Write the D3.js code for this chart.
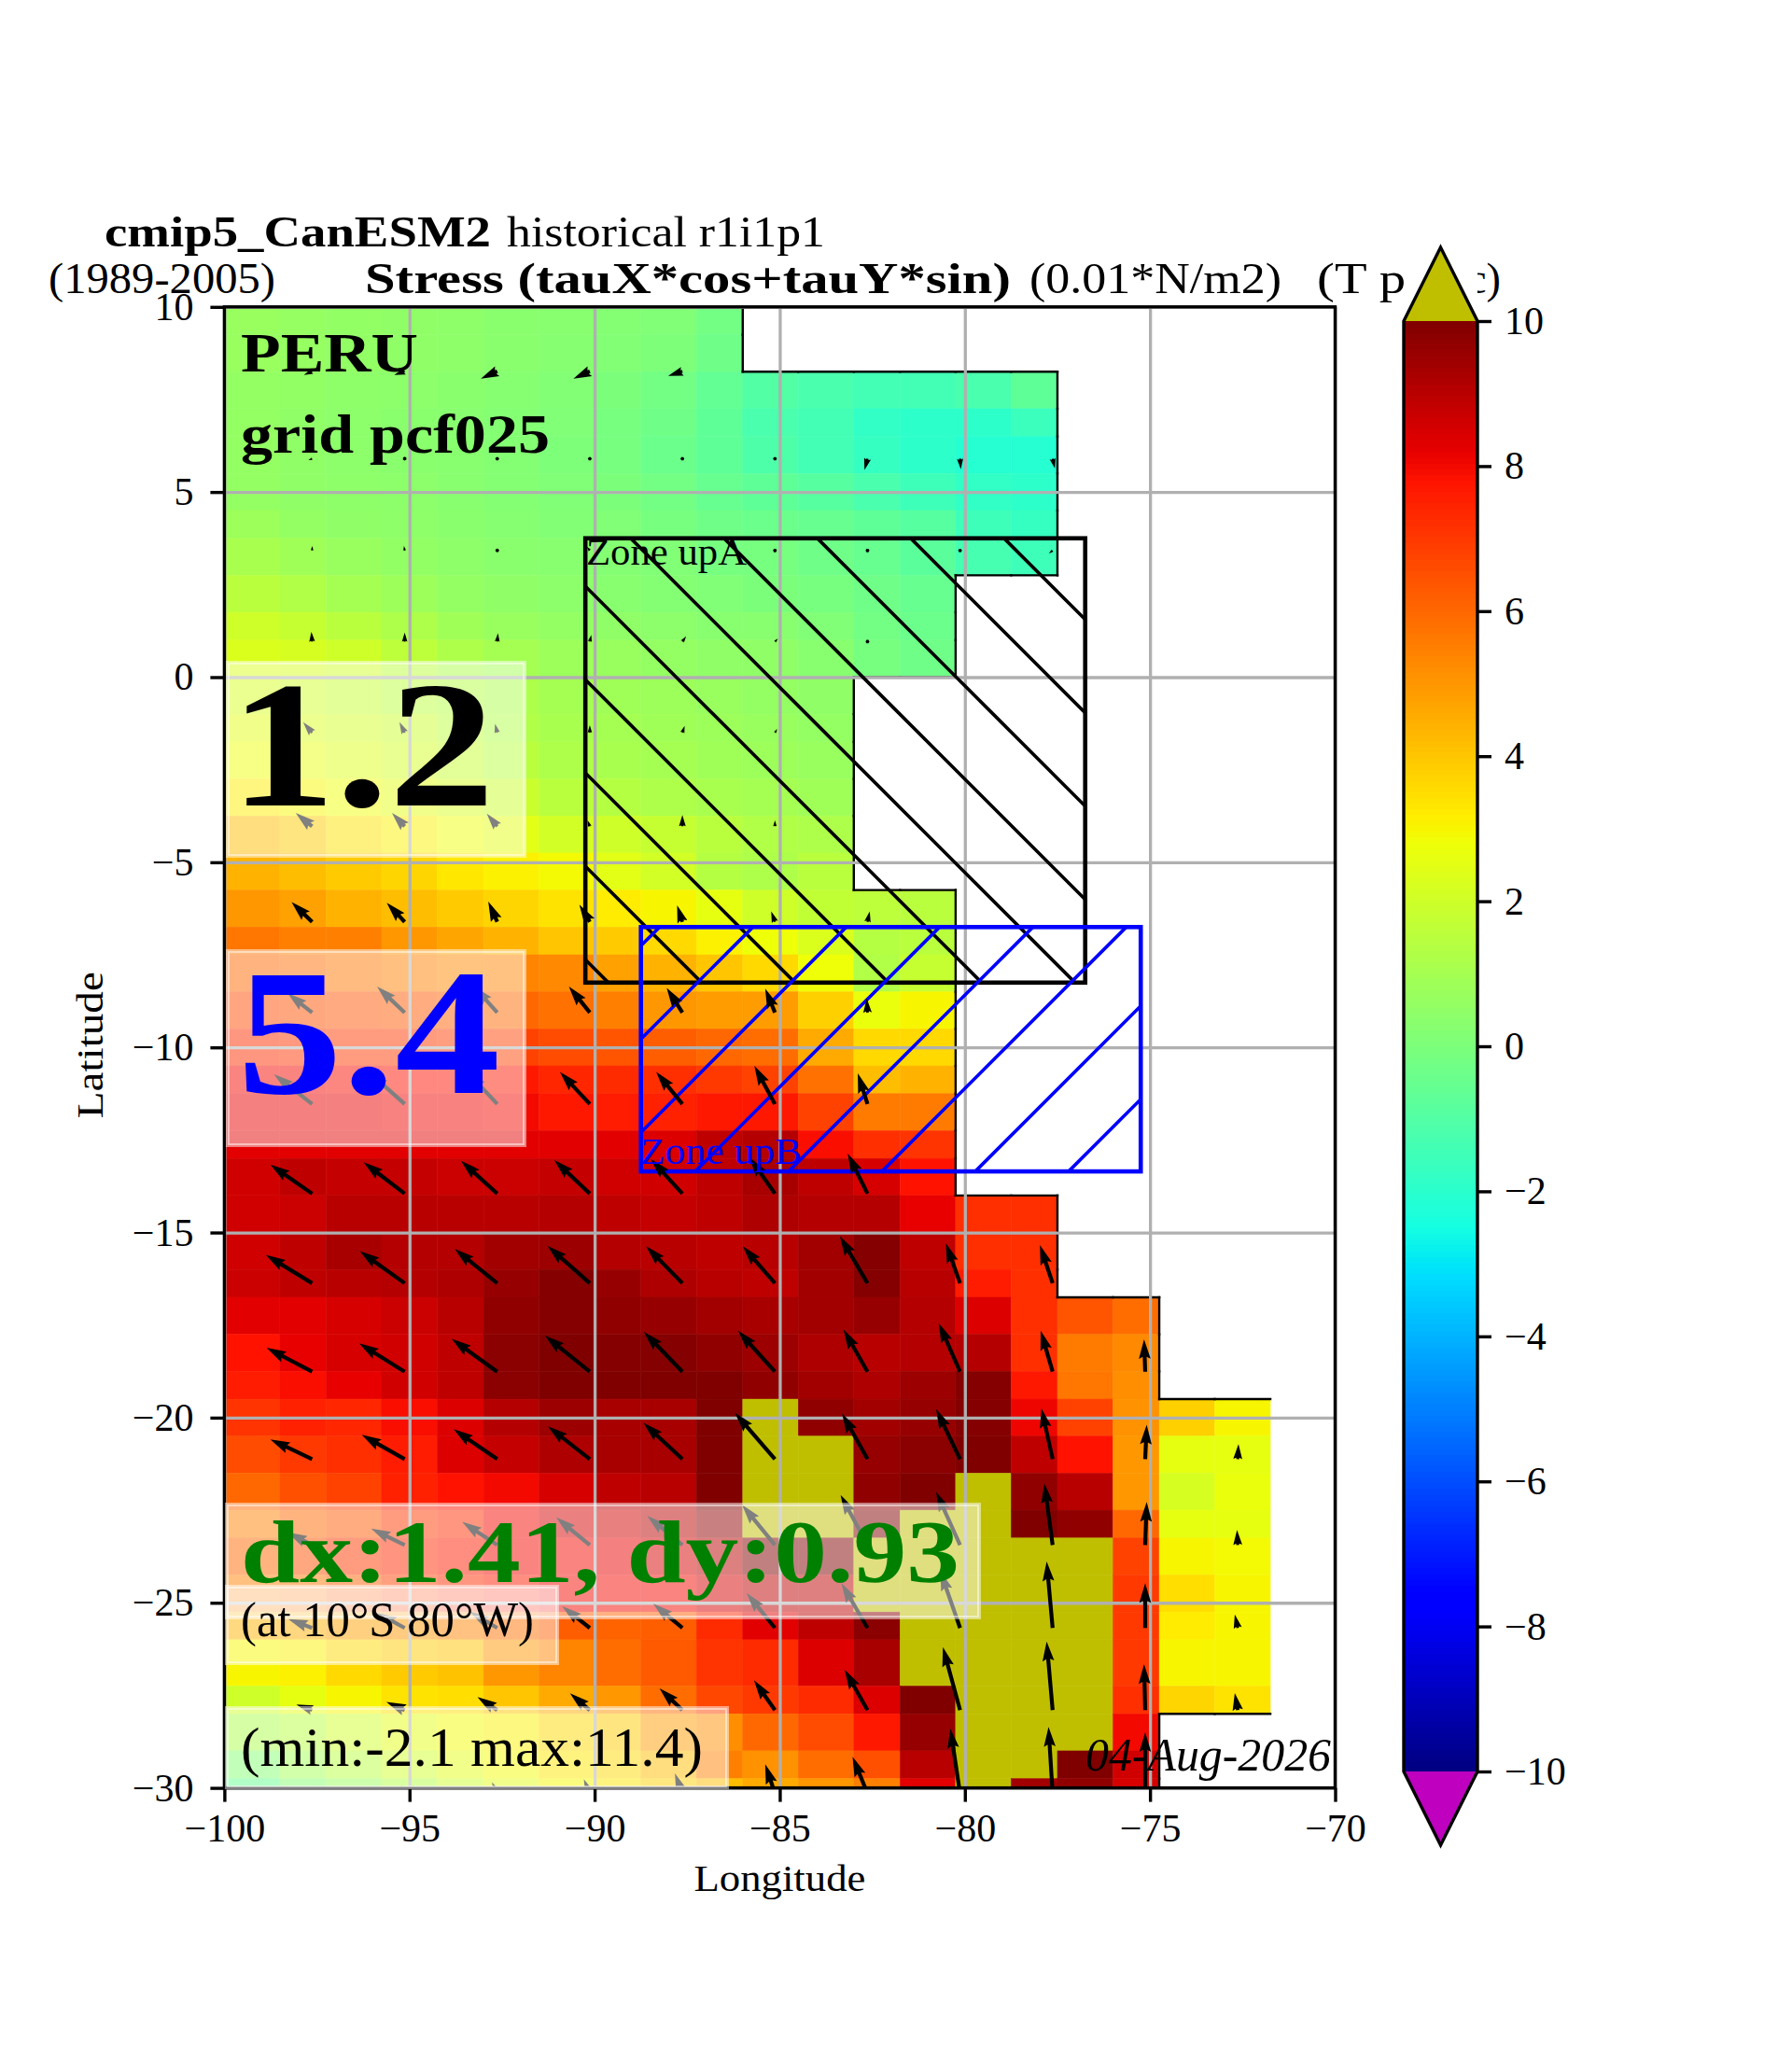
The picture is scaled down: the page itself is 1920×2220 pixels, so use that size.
<!DOCTYPE html>
<html lang="en">

<head>
    <meta charset="utf-8">
    <title>Stress</title>
    <script type="text/javascript" src="https://d3js.org/d3.v7.min.js"></script>
    <style type="text/css">
        body {
            margin: 0;
            background: white;
        }

        text {
            font-family: "Liberation Serif", serif;
        }
    </style>
</head>

<body>
    <svg width="1920" height="2220"></svg>
    <script type="text/javascript">
        //Cell edges of the regridded field (degrees)
        const lonEdges = [-100, -98.5, -97.25, -95.75, -94.25, -93, -91.5, -90, -88.75, -87.25, -86, -84.5, -83,
            -81.75, -80.25, -78.75, -77.5, -76, -74.75, -73.25, -71.75]
        const latEdges = [10, 9.25, 8.25, 7.25, 6.5, 5.5, 4.5, 3.75, 2.75, 1.75, 1, 0, -1, -1.75, -2.75, -3.75, -4.75,
            -5.75, -6.75, -7.5, -8.5, -9.5, -10.5, -11.25, -12.25, -13, -14, -15, -16, -16.75, -17.75, -18.75, -19.5,
            -20.5, -21.5, -22.5, -23.25, -24.25, -25.25, -26, -27.25, -28, -29, -29.75, -30]

        //Field values, one row per latitude band (north to south), short rows are land
        const stress = [
            [.7, .65, .55, .5, .45, .35, .3, .2, .1, -.2],
            [.7, .65, .55, .5, .45, .35, .25, .15, .05, -.3],
            [.6, .55, .45, .4, .35, .25, .15, 0, -.2, -.6, -1, -1.2, -1.4, -1.4, -1.2, -.7],
            [.6, .5, .4, .35, .3, .2, .1, -.1, -.3, -.7, -1.2, -1.4, -1.8, -1.9, -1.9, -1.6],
            [.6, .5, .4, .35, .3, .2, .05, -.1, -.4, -.7, -1.1, -1.4, -1.7, -1.9, -2.1, -2.1],
            [.6, .5, .45, .4, .3, .2, .1, 0, -.2, -.5, -.7, -.9, -1.2, -1.5, -1.8, -1.9],
            [.8, .6, .5, .45, .35, .25, .15, .1, -.1, -.3, -.4, -.5, -.7, -.9, -1.5, -1.7],
            [1.1, .9, .7, .55, .45, .35, .3, .2, .1, -.1, -.1, -.3, -.5, -.8, -1.3, -1.5],
            [1.5, 1.3, 1, .8, .6, .5, .4, .3, .2, .1, 0, -.1, -.3, -.5],
            [2, 1.8, 1.5, 1.2, .9, .7, .6, .5, .4, .3, .3, .1, -.2, -.4],
            [2.3, 2.2, 2, 1.6, 1.2, 1, .8, .7, .6, .5, .5, .3, -.1, -.3],
            [2.2, 2, 1.8, 1.6, 1.4, 1.2, 1, .9, .8, .7, .6, .5],
            [2.5, 2.3, 2.1, 1.9, 1.6, 1.3, 1.1, 1, .9, .8, .7, .6],
            [2.8, 2.6, 2.4, 2.1, 1.8, 1.5, 1.2, 1.1, 1, .9, .8, .7],
            [3.2, 3, 2.8, 2.5, 2.2, 1.9, 1.5, 1.4, 1.2, 1.1, 1, .9],
            [4.2, 3.9, 3.4, 3.1, 2.8, 2.5, 2.1, 2, 1.8, 1.5, 1.3, 1.2],
            [4.4, 4.2, 3.9, 3.7, 3.3, 3.1, 2.9, 2.5, 2.1, 1.4, 1.2, 1.5],
            [5, 4.8, 4.4, 4.2, 3.9, 3.7, 3.4, 3.2, 3, 2.6, 2, 1.7, 1.6, 1.5],
            [5.7, 5.5, 5.5, 5, 4.7, 4.4, 4, 3.9, 3.6, 3.1, 2.8, 2.3, 1.4, 1.5],
            [6, 5.9, 5.7, 5.5, 5.3, 5.4, 5.3, 4.8, 4.4, 4, 3.6, 2.8, 1.3, 1.8],
            [6.6, 6.5, 6.4, 6.3, 6.2, 6, 5.8, 5.5, 5, 4.9, 4.9, 3.8, 2.7, 3],
            [7.2, 7.1, 7, 7, 6.9, 6.8, 6.6, 6.4, 6.2, 6, 5.9, 4.6, 3.6, 3.6],
            [8, 8, 7.9, 7.8, 7.8, 7.7, 7.4, 7.3, 7.2, 7, 6.8, 5.8, 4.2, 4.4],
            [8.2, 8.2, 8.2, 8.1, 8.1, 8, 7.7, 7.6, 7.5, 7.7, 7.7, 6.8, 5.6, 5.6],
            [8.3, 8.3, 8.3, 8.3, 8.3, 8.3, 8.3, 8.3, 8.4, 8.9, 9.1, 7.9, 7.2, 7.1],
            [8.6, 8.9, 8.8, 8.8, 8.7, 8.7, 8.8, 8.6, 8.6, 8.9, 9.3, 8.9, 8.5, 7.8],
            [8.6, 8.7, 9, 9, 9, 9, 9.1, 8.9, 8.8, 8.9, 9.2, 9.1, 9.1, 8.2, 7.2, 7.2],
            [8.6, 8.9, 9.3, 9.1, 9.1, 9.4, 9.5, 9.1, 9, 8.9, 9, 9.4, 9.9, 8.9, 7.2, 7.2],
            [8.7, 8.9, 9, 9.1, 9.2, 9.6, 9.9, 9.6, 9.2, 9, 8.9, 9.4, 9.9, 9, 7.6, 7.2],
            [8.3, 8.3, 8.5, 8.7, 9, 9.7, 9.9, 9.7, 9.6, 9.4, 9.3, 9.4, 9.6, 9.1, 8.4, 7.2, 6.4, 5.9],
            [7.8, 8.2, 8.5, 8.6, 8.9, 9.8, 10, 9.9, 9.9, 9.7, 9.5, 9.2, 9, 9.1, 9.1, 7.2, 5.6, 5.3],
            [7.6, 7.9, 8.2, 8.6, 8.9, 9.8, 10, 10, 10, 10, 9.7, 9.4, 9.2, 9.5, 9.9, 7.7, 5.7, 5.2],
            [7.1, 7.5, 7.4, 7.9, 8.4, 9.1, 9.5, 9.3, 9.3, 10, 11, 9.7, 9.4, 9.6, 9.9, 8.1, 6.8, 5.1, 3.8, 3],
            [6.6, 7, 7.2, 7.6, 8.4, 8.8, 9.2, 9.3, 9.3, 10, 11, 11, 9.6, 9.8, 10, 8.9, 7.8, 5, 2.6, 2.6],
            [6, 6.5, 6.8, 7.5, 7.8, 8, 8.5, 8.9, 9, 10, 11, 11, 9.7, 10, 11, 9.7, 9, 5, 2.2, 2.7],
            [5.5, 6, 6.3, 7, 7.2, 8, 8.5, 8.6, 9, 9.7, 11, 11, 10, 11, 11, 10, 9.7, 6, 2.6, 2.6],
            [6, 6.5, 7, 7.3, 7.6, 8, 8, 8.2, 8.5, 9, 10, 10, 11, 11, 11, 11, 11, 6.8, 3, 2.9],
            [5.5, 5.7, 6.2, 6.8, 7.2, 7.6, 8, 8, 8, 8.5, 8.9, 8.9, 11, 11, 11, 11, 11, 7, 3.5, 3],
            [4.4, 4.5, 4.8, 5, 5.4, 5.8, 6.2, 6.1, 6.2, 7.3, 8.3, 8.9, 9.8, 11, 11, 11, 11, 7, 3.2, 3],
            [3, 3.1, 3.6, 3.9, 4.1, 5, 5.4, 5.9, 6.3, 7.1, 7.3, 8.4, 9.3, 11, 11, 11, 11, 7, 3, 3],
            [2, 2.6, 3, 3.4, 3.5, 4, 4.6, 5, 5.9, 6.7, 7, 7.3, 8.4, 10, 11, 11, 11, 7.2, 3.7, 3.4],
            [1.2, 1.5, 2, 2.5, 2.9, 3.1, 3.6, 3.9, 4.9, 5.2, 6, 6.6, 7.7, 9.6, 11, 11, 11, 8],
            [.2, 1, 1.5, 2, 2.5, 2.9, 3.3, 3.6, 4.2, 5.5, 5.1, 5.9, 6.5, 9, 11, 11, 10, 8.6],
            [-.5, .3, .8, 1.4, 2, 2.5, 3, 3.3, 3.8, 4.2, 4.6, 5, 5.5, 8.3, 11, 9.4, 9.7, 8.5]
        ]

        //Arrow tails: one every 2.5 degrees of longitude, latitudes as read
        const arrowLons = [-97.63, -95.13, -92.63, -90.13, -87.63, -85.13, -82.63, -80.13, -77.63, -75.13, -72.63]
        const arrowLats = [8.26, 5.9, 3.42, .96, -1.5, -4.03, -6.61, -9.06, -11.53, -13.95, -16.37, -18.76, -21.12,
            -23.44, -25.68, -27.9, -30.15]
        const arrowU = [
            [-1.1, -1.4, -2.2, -2.2, -1.9],
            [-.5, -.4, .05, .05, .05, .05, -.4, .1, .3],
            [0, -.1, -.3, -.4, .05, .05, .05, -.3, -.5],
            [-.1, 0, .1, .2, .5, .4, .05],
            [-1.2, -.7, -.3, 0, .3, .3],
            [-2.2, -1.7, -1.4, -.3, 0, 0],
            [-2.75, -2.4, -1.2, -1.4, -.7, -.5, .3],
            [-3.3, -3.7, -3.1, -2.8, -2.1, -1.3, -.1],
            [-5.1, -4.8, -4, -4, -3.5, -2.75, -1.3],
            [-5.6, -5.5, -4.85, -4.75, -4.2, -3.4, -2.65],
            [-6.2, -6, -5.7, -5.65, -4.85, -4.3, -3.7, -1.9, -1.7],
            [-6.1, -6.1, -6.1, -6, -5.15, -4.95, -3.2, -2.85, -1.6, -.15],
            [-5.6, -5.75, -5.85, -5.6, -5.2, -5.35, -3.4, -3.2, -1.5, .2, .1],
            [-3.3, -4.5, -4.7, -4.5, -4.7, -4.4, -3.6, -3.2, -1.1, .2, -.1],
            [-3.2, -3.7, -3.7, -3.7, -3.9, -3.8, -3.5, -2.65, -.8, 0, -.4],
            [-2.1, -2.45, -2.65, -2.65, -3.05, -2.8, -3.05, -2.3, -.8, -.15, -.4],
            [0, -.4, -.7, -.8, -1, -1.3, -2, -1.3, -.55, 0]
        ]
        const arrowV = [
            [-.5, -.5, -1, -1, -.6],
            [-.2, -.2, 0, 0, 0, 0, -1.5, -1.4, -1.3],
            [.6, .6, .3, .5, 0, 0, 0, -.4, -.4],
            [1.3, 1.2, 1.1, .9, .7, .4, 0],
            [1.4, 1.4, 1.2, 1, .9, .5],
            [1.8, 1.8, 1.7, .8, 1.5, .8],
            [2.65, 2.55, 2.7, 2.3, 2.2, 1.4, 1.4],
            [2.6, 3.5, 3.5, 3.5, 3.3, 3.2, 1.9],
            [4, 4.3, 4.3, 4.3, 4.3, 5.1, 4.1],
            [3.9, 4.2, 4.4, 4.5, 4.6, 4.85, 5.35],
            [3.8, 4.3, 4.6, 5, 4.95, 4.95, 6.3, 5.35, 5.1],
            [3.2, 3.8, 4.4, 4.85, 5.35, 5.5, 5.65, 6.5, 5.5, 4.35],
            [2.65, 3.25, 4, 4.4, 4.85, 6.2, 6.1, 6.7, 6.8, 4.6, 2],
            [1.7, 2.2, 3.1, 3.7, 3.9, 5.4, 6.7, 7.1, 8.25, 5.75, 2],
            [1.2, 2, 2.2, 2.9, 3.25, 4.7, 6, 7.6, 8.9, 6, 1.8],
            [.75, 1.1, 1.75, 2.25, 2.9, 4, 5.4, 8.45, 9.2, 6.15, 2.3],
            [1, 1.1, 1.5, 1.9, 2.7, 3.9, 4.9, 8.7, 8.9, 8.2]
        ]

        //Tick labels
        const lonTicks = [-100, -95, -90, -85, -80, -75, -70]
        const latTicks = [10, 5, 0, -5, -10, -15, -20, -25, -30]
        const barTicks = [10, 8, 6, 4, 2, 0, -2, -4, -6, -8, -10]

        //Hatched zones [west, east, north, south]
        const zoneA = [-90.25, -76.75, 3.75, -8.25]
        const zoneB = [-88.75, -75.25, -6.75, -13.35]

        //Page layout
        const svg = d3.select("svg");
        const plot = { left: 240.4, right: 1430.5, top: 328.8, bottom: 1915.6 };
        const bar = { left: 1504, right: 1583, top: 344, bottom: 1898, tip: 79 };
        const overColor = "#bfbf00";
        const underColor = "#bf00bf";

        const xScale = d3.scaleLinear().domain([-100, -70]).range([plot.left, plot.right]);
        const yScale = d3.scaleLinear().domain([10, -30]).range([plot.top, plot.bottom]);
        const barScale = d3.scaleLinear().domain([10, -10]).range([bar.top, bar.bottom]);

        //Same breakpoints as the usual jet colormap
        const chan = (pts) => d3.scaleLinear().domain(pts.map(p => p[0])).range(pts.map(p => p[1]));
        const red = chan([[0, 0], [.35, 0], [.66, 1], [.89, 1], [1, .5]]);
        const green = chan([[0, 0], [.125, 0], [.375, 1], [.64, 1], [.91, 0], [1, 0]]);
        const blue = chan([[0, .5], [.11, 1], [.34, 1], [.65, 0], [1, 0]]);
        const jet = t => d3.rgb(red(t) * 255, green(t) * 255, blue(t) * 255).formatRgb();
        const color = v => v > 10 ? overColor : v < -10 ? underColor : jet((v + 10) / 20);

        svg.append("defs").append("clipPath").attr("id", "plotClip")
            .append("rect")
            .attr("x", plot.left).attr("y", plot.top)
            .attr("width", plot.right - plot.left).attr("height", plot.bottom - plot.top);

        //Field
        const cells = stress.flatMap((row, j) => row.map((v, i) => ({ v, i, j })));
        svg.append("g")
            .selectAll("rect")
            .data(cells)
            .enter()
            .append("rect")
            .attr("x", d => xScale(lonEdges[d.i]))
            .attr("y", d => yScale(latEdges[d.j]))
            .attr("width", d => xScale(lonEdges[d.i + 1]) - xScale(lonEdges[d.i]))
            .attr("height", d => yScale(latEdges[d.j + 1]) - yScale(latEdges[d.j]))
            .attr("fill", d => color(d.v))
            .attr("stroke", d => color(d.v))
            .attr("stroke-width", 0.5);

        //Land outline: every edge between a cell with data and one without
        const hasData = (i, j) => j >= 0 && j < stress.length && i >= 0 && i < stress[j].length;
        const coast = [];
        stress.forEach((row, j) => {
            d3.range(lonEdges.length - 1).forEach(i => {
                if (hasData(i, j)) return;
                if (hasData(i - 1, j)) coast.push([lonEdges[i], latEdges[j], lonEdges[i], latEdges[j + 1]]);
                if (hasData(i, j - 1)) coast.push([lonEdges[i], latEdges[j], lonEdges[i + 1], latEdges[j]]);
                if (hasData(i, j + 1)) coast.push([lonEdges[i], latEdges[j + 1], lonEdges[i + 1], latEdges[j + 1]]);
            })
        })
        svg.append("g")
            .selectAll("line")
            .data(coast)
            .enter()
            .append("line")
            .attr("x1", d => xScale(d[0]))
            .attr("y1", d => yScale(d[1]))
            .attr("x2", d => xScale(d[2]))
            .attr("y2", d => yScale(d[3]))
            .attr("stroke", "black")
            .attr("stroke-width", 2.4)
            .attr("stroke-linecap", "square");

        //Grid
        const gridStyle = g => g.call(s => s.select(".domain").remove())
            .call(s => s.selectAll("text").remove())
            .call(s => s.selectAll("line").attr("stroke", "#b0b0b0").attr("stroke-width", 3.3));
        svg.append("g")
            .attr("transform", "translate(0," + plot.bottom + ")")
            .call(d3.axisBottom(xScale).tickValues(lonTicks).tickSize(plot.top - plot.bottom))
            .call(gridStyle);
        svg.append("g")
            .attr("transform", "translate(" + plot.left + ",0)")
            .call(d3.axisLeft(yScale).tickValues(latTicks).tickSize(plot.left - plot.right))
            .call(gridStyle);

        //Hatched zones: tiled like the agg hatch, so the phase comes from page pixels
        function drawZone(id, zone, stroke, slope, phase) {
            const x0 = xScale(zone[0]), x1 = xScale(zone[1]), y0 = yScale(zone[2]), y1 = yScale(zone[3]);
            svg.append("clipPath").attr("id", id)
                .append("rect").attr("x", x0).attr("y", y0).attr("width", x1 - x0).attr("height", y1 - y0);
            svg.append("g")
                .attr("clip-path", "url(#" + id + ")")
                .selectAll("line")
                .data(d3.range(-2000, 4000, 100))
                .enter()
                .append("line")
                .attr("x1", d => d + phase)
                .attr("y1", 0)
                .attr("x2", d => d + phase + slope * 2220)
                .attr("y2", 2220)
                .attr("stroke", stroke)
                .attr("stroke-width", 3.7);
            svg.append("rect")
                .attr("x", x0).attr("y", y0).attr("width", x1 - x0).attr("height", y1 - y0)
                .attr("fill", "none")
                .attr("stroke", stroke)
                .attr("stroke-width", 4.6);
        }
        drawZone("clipA", zoneA, "black", 1, 99);
        drawZone("clipB", zoneB, "blue", -1, 0);

        //Arrows, same proportions as a matplotlib quiver
        const pxPerUnit = 8;
        const shaft = 4.2, headW = 12.6, headL = 21, headAxis = 18.9;
        function arrowPath(len) {
            if (len < shaft) {
                const r = shaft / 2;
                return d3.range(6).map(k => (k ? "L" : "M") + r * Math.cos(k * Math.PI / 3) + "," + r * Math.sin(k * Math.PI / 3)).join("") + "Z";
            }
            const s = len < headL ? len / headL : 1;
            const l = Math.max(len, headL);
            const pts = [[0, -shaft / 2], [l - headAxis, -shaft / 2], [l - headL, -headW / 2], [l, 0],
            [l - headL, headW / 2], [l - headAxis, shaft / 2], [0, shaft / 2]];
            return "M" + pts.map(p => (p[0] * s) + "," + (p[1] * s)).join("L") + "Z";
        }
        const arrows = arrowU.flatMap((row, j) => row.map((u, i) => ({ u, v: arrowV[j][i], i, j })));
        svg.append("g")
            .attr("clip-path", "url(#plotClip)")
            .selectAll("path")
            .data(arrows)
            .enter()
            .append("path")
            .attr("d", d => arrowPath(Math.hypot(d.u, d.v) * pxPerUnit))
            .attr("transform", d => "translate(" + xScale(arrowLons[d.i]) + "," + yScale(arrowLats[d.j]) + ") rotate(" +
                (Math.atan2(-d.v, d.u) * 180 / Math.PI) + ")")
            .attr("fill", "black");

        //Frame
        svg.append("rect")
            .attr("x", plot.left).attr("y", plot.top)
            .attr("width", plot.right - plot.left).attr("height", plot.bottom - plot.top)
            .attr("fill", "none")
            .attr("stroke", "black")
            .attr("stroke-width", 3.4);

        //Axes
        const axisStyle = g => g.call(s => s.select(".domain").remove())
            .call(s => s.selectAll("line").attr("stroke", "black").attr("stroke-width", 3.4))
            .call(s => s.selectAll("text").attr("font-size", 42).attr("fill", "black"));
        svg.append("g")
            .attr("transform", "translate(0," + plot.bottom + ")")
            .call(d3.axisBottom(xScale).tickValues(lonTicks).tickSize(15).tickPadding(13))
            .call(axisStyle);
        svg.append("g")
            .attr("transform", "translate(" + plot.left + ",0)")
            .call(d3.axisLeft(yScale).tickValues(latTicks).tickSize(15).tickPadding(18))
            .call(axisStyle);

        //Text helper, widths are forced so the serif stands in for Computer Modern
        function label(x, y, str, size, width, opts = {}) {
            return svg.append("text")
                .attr("x", x).attr("y", y)
                .attr("font-size", size)
                .attr("font-weight", opts.bold ? "bold" : null)
                .attr("font-style", opts.italic ? "italic" : null)
                .attr("fill", opts.fill || "black")
                .attr("textLength", width)
                .attr("lengthAdjust", "spacingAndGlyphs")
                .text(str);
        }

        //Title
        label(112, 264, "cmip5_CanESM2", 46, 414, { bold: true });
        label(543, 264, "historical r1i1p1", 46, 341);
        label(52, 314, "(1989-2005)", 46, 243);
        label(391, 314, "Stress (tauX*cos+tauY*sin)", 46, 692, { bold: true });
        label(1103, 314, "(0.01*N/m2)", 46, 270);
        label(1411, 314, "(T p", 46, 95);
        label(1572, 314, "c)", 46, 36);

        //Boxes sit over grid and arrows
        function box(x0, y0, x1, y1) {
            svg.append("rect")
                .attr("x", x0).attr("y", y0)
                .attr("width", x1 - x0).attr("height", y1 - y0)
                .attr("fill", "white").attr("fill-opacity", 0.5)
                .attr("stroke", "white").attr("stroke-opacity", 0.5).attr("stroke-width", 4);
        }
        box(244, 710, 562, 917);
        box(244, 1019, 562, 1227);
        box(243, 1612, 1049, 1733);
        box(243, 1700, 597, 1782);
        box(243, 1830, 779, 1915);

        label(258, 398, "PERU", 60, 190, { bold: true });
        label(258, 485, "grid pcf025", 60, 331, { bold: true });
        label(628, 605, "Zone upA", 40, 172);
        label(686, 1247, "Zone upB", 40, 173, { fill: "blue" });
        label(246, 863, "1.2", 192, 284, { bold: true });
        label(254, 1171, "5.4", 192, 282, { bold: true, fill: "blue" });
        label(258, 1695, "dx:1.41, dy:0.93", 95, 770, { bold: true, fill: "green" });
        label(258, 1753, "(at 10°S 80°W)", 52, 314);
        label(258, 1892, "(min:-2.1 max:11.4)", 60, 495);
        label(1163, 1897, "04-Aug-2026", 50, 263, { italic: true });

        //Axis names
        svg.append("text")
            .attr("x", (plot.left + plot.right) / 2 - 92).attr("y", 2026)
            .attr("font-size", 40)
            .attr("textLength", 184).attr("lengthAdjust", "spacingAndGlyphs")
            .text("Longitude");
        svg.append("text")
            .attr("transform", "translate(110," + ((plot.top + plot.bottom) / 2 - 2 + 78) + ") rotate(-90)")
            .attr("font-size", 40)
            .attr("textLength", 157).attr("lengthAdjust", "spacingAndGlyphs")
            .text("Latitude");

        //Colorbar with its white backing, which hides the end of the title
        const barMid = (bar.left + bar.right) / 2;
        svg.append("rect")
            .attr("x", bar.left).attr("y", bar.top - bar.tip)
            .attr("width", bar.right - bar.left).attr("height", bar.bottom - bar.top + 2 * bar.tip)
            .attr("fill", "white");
        const barLevels = d3.range(0, 256);
        const levelH = (bar.bottom - bar.top) / 256;
        svg.append("g")
            .attr("shape-rendering", "crispEdges")
            .selectAll("rect")
            .data(barLevels)
            .enter()
            .append("rect")
            .attr("x", bar.left)
            .attr("y", d => bar.bottom - (d + 1) * levelH)
            .attr("width", bar.right - bar.left)
            .attr("height", levelH + 1)
            .attr("fill", d => jet((d + 0.5) / 256));
        const outline = d3.path();
        outline.moveTo(bar.left, bar.top);
        outline.lineTo(barMid, bar.top - bar.tip);
        outline.lineTo(bar.right, bar.top);
        outline.lineTo(bar.right, bar.bottom);
        outline.lineTo(barMid, bar.bottom + bar.tip);
        outline.lineTo(bar.left, bar.bottom);
        outline.closePath();
        [[bar.top, bar.top - bar.tip, overColor], [bar.bottom, bar.bottom + bar.tip, underColor]].forEach(t => {
            const p = d3.path();
            p.moveTo(bar.left, t[0]);
            p.lineTo(barMid, t[1]);
            p.lineTo(bar.right, t[0]);
            p.closePath();
            svg.append("path").attr("d", p.toString()).attr("fill", t[2]);
        })
        svg.append("path")
            .attr("d", outline.toString())
            .attr("fill", "none")
            .attr("stroke", "black")
            .attr("stroke-width", 3.4);
        svg.append("g")
            .attr("transform", "translate(" + bar.right + ",0)")
            .call(d3.axisRight(barScale).tickValues(barTicks).tickSize(15).tickPadding(14))
            .call(axisStyle);
    </script>
</body>

</html>
